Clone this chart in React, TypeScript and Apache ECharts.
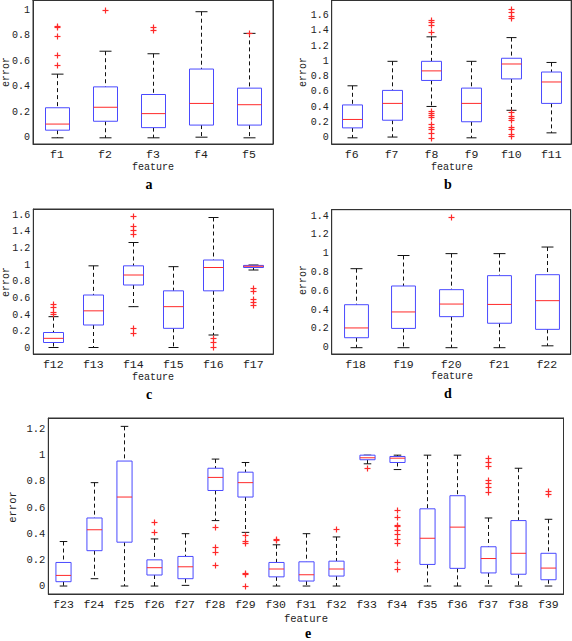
import React, { useEffect, useRef } from "react";
import * as echarts from "echarts";

// ---------- data ----------
const featuresA = ["f1", "f2", "f3", "f4", "f5"];
const statsA = [
  [0, 0.06, 0.108, 0.236, 0.5],
  [0, 0.13, 0.24, 0.4, 0.68],
  [0, 0.08, 0.19, 0.34, 0.66],
  [0.005, 0.1, 0.27, 0.54, 0.99],
  [0, 0.1, 0.26, 0.39, 0.82],
];
const outliersA = [[0.57, 0.65, 0.8, 0.87, 0.88], [1.0], [0.85, 0.87], [], [0.82]];
const ticksA = [0, 0.2, 0.4, 0.6, 0.8, 1];

const featuresB = ["f6", "f7", "f8", "f9", "f10", "f11"];
const statsB = [
  [0, 0.13, 0.24, 0.43, 0.68],
  [0.01, 0.23, 0.45, 0.62, 1.0],
  [0.41, 0.75, 0.875, 1.0, 1.32],
  [0, 0.21, 0.45, 0.65, 1.0],
  [0.36, 0.77, 0.965, 1.04, 1.31],
  [0.065, 0.45, 0.73, 0.86, 0.985],
];
const outliersB = [
  [],
  [],
  [1.38, 1.47, 1.52, 1.54, 0.35, 0.33, 0.3, 0.27, 0.175, 0.14, 0.11, 0.065, 0.0],
  [],
  [1.56, 1.59, 1.64, 1.68, 0.34, 0.29, 0.26, 0.23, 0.14, 0.12, 0.05, 0.02],
  [],
];
const ticksB = [0, 0.2, 0.4, 0.6, 0.8, 1, 1.2, 1.4, 1.6];

const featuresC = ["f12", "f13", "f14", "f15", "f16", "f17"];
const statsC = [
  [0.01, 0.07, 0.12, 0.19, 0.38],
  [0.01, 0.28, 0.45, 0.64, 0.99],
  [0.5, 0.76, 0.88, 0.99, 1.27],
  [0.01, 0.24, 0.5, 0.69, 0.98],
  [0.16, 0.69, 0.97, 1.06, 1.57],
  [0.94, 0.97, 0.985, 0.995, 1.0],
];
const outliersC = [
  [0.53, 0.5, 0.44, 0.41],
  [],
  [1.37, 1.42, 1.47, 1.59, 0.25, 0.19],
  [],
  [0.13, 0.08, 0.02],
  [0.72, 0.69, 0.59, 0.56, 0.52],
];
const ticksC = [0, 0.2, 0.4, 0.6, 0.8, 1, 1.2, 1.4, 1.6];

const featuresD = ["f18", "f19", "f20", "f21", "f22"];
const statsD = [
  [0, 0.106, 0.21, 0.457, 0.84],
  [0, 0.205, 0.38, 0.656, 0.98],
  [0, 0.33, 0.464, 0.617, 1.0],
  [0, 0.26, 0.46, 0.766, 1.0],
  [0.02, 0.195, 0.5, 0.776, 1.07],
];
const outliersD = [[], [], [1.39], [], []];
const ticksD = [0, 0.2, 0.4, 0.6, 0.8, 1, 1.2, 1.4];

const featuresE = [
  "f23", "f24", "f25", "f26", "f27", "f28", "f29", "f30", "f31",
  "f32", "f33", "f34", "f35", "f36", "f37", "f38", "f39",
];
const statsE = [
  [0, 0.033, 0.081, 0.18, 0.34],
  [0.056, 0.27, 0.43, 0.52, 0.79],
  [0, 0.335, 0.68, 0.955, 1.22],
  [0, 0.084, 0.14, 0.2, 0.36],
  [0.005, 0.056, 0.147, 0.226, 0.4],
  [0.5, 0.73, 0.83, 0.9, 0.97],
  [0.41, 0.68, 0.79, 0.87, 0.944],
  [0, 0.07, 0.13, 0.18, 0.315],
  [0, 0.038, 0.086, 0.185, 0.4],
  [0, 0.076, 0.13, 0.19, 0.375],
  [0.934, 0.965, 0.98, 1.0, 1.0],
  [0.89, 0.944, 0.977, 0.99, 1.0],
  [0, 0.165, 0.365, 0.59, 1.0],
  [0, 0.135, 0.45, 0.69, 1.0],
  [0, 0.1, 0.21, 0.3, 0.52],
  [0, 0.09, 0.25, 0.5, 0.9],
  [0, 0.048, 0.137, 0.25, 0.51],
];
const outliersE = [
  [],
  [],
  [],
  [0.49, 0.41],
  [],
  [0.45, 0.3, 0.26, 0.16],
  [0.39, 0.345, 0.325, 0.1, 0.09, 0.0],
  [0.36, 0.355],
  [],
  [0.434],
  [0.9],
  [0.584, 0.53, 0.47, 0.457, 0.43, 0.4, 0.36, 0.33, 0.185, 0.13],
  [],
  [],
  [0.98, 0.95, 0.92, 0.81, 0.79, 0.76, 0.72],
  [],
  [0.726, 0.705],
];
const ticksE = [0, 0.2, 0.4, 0.6, 0.8, 1, 1.2];

// ---------- layout ----------
const panels = [
  {
    name: "a", features: featuresA, stats: statsA, outliers: outliersA, ticks: ticksA,
    left: 33, top: -3, width: 240, height: 147, min: -0.0485, max: 1.082, fy: 10, fx: 11.5,
    err: [6, 72], feat: [153, 167], letter: [149, 184],
  },
  {
    name: "b", features: featuresB, stats: statsB, outliers: outliersB, ticks: ticksB,
    left: 331.7, top: -3, width: 239.5, height: 147, min: -0.0807, max: 1.8015, fy: 10, fx: 11.5,
    err: [303, 72], feat: [452, 167], letter: [448, 184],
  },
  {
    name: "c", features: featuresC, stats: statsC, outliers: outliersC, ticks: ticksC,
    left: 33.3, top: 209, width: 240, height: 145, min: -0.068, max: 1.672, fy: 10, fx: 11.5,
    err: [6, 282], feat: [153, 377], letter: [149, 394],
  },
  {
    name: "d", features: featuresD, stats: statsD, outliers: outliersD, ticks: ticksD,
    left: 331.7, top: 209.7, width: 239, height: 144.3, min: -0.067, max: 1.467, fy: 10, fx: 11.5,
    err: [303, 280], feat: [452, 376], letter: [448, 393],
  },
  {
    name: "e", features: featuresE, stats: statsE, outliers: outliersE, ticks: ticksE,
    left: 48.3, top: 418, width: 515.2, height: 176, min: -0.061, max: 1.284, fy: 10.5, fx: 11.5,
    err: [13, 507], feat: [306, 619], letter: [308, 633],
  },
];

const MONO = "Liberation Mono";
const AXIS = "#333";
const TEXT = "#222";
const BLUE = "#4a4aff";
const RED = "#ff2a2a";

function buildOption() {
  const grid: any[] = [];
  const xAxis: any[] = [];
  const yAxis: any[] = [];
  const series: any[] = [];
  const graphic: any[] = [];

  panels.forEach((p, i) => {
    grid.push({
      left: p.left, top: p.top, width: p.width, height: p.height,
      show: true, borderColor: AXIS, borderWidth: 1, backgroundColor: "transparent",
    });
    const tickStyle = { inside: true, length: 4, lineStyle: { color: AXIS, width: 1 } };
    xAxis.push({
      type: "category", gridIndex: i, data: p.features, position: "bottom",
      boundaryGap: true,
      axisLine: { show: true, onZero: false, lineStyle: { color: AXIS, width: 1 } },
      axisTick: { ...tickStyle, alignWithLabel: true, interval: 0 },
      axisLabel: { fontFamily: MONO, fontSize: p.fx, color: TEXT, margin: 4, interval: 0 },
      splitLine: { show: false },
    });
    xAxis.push({
      type: "category", gridIndex: i, data: p.features, position: "top",
      boundaryGap: true,
      axisLine: { show: true, onZero: false, lineStyle: { color: AXIS, width: 1 } },
      axisTick: { ...tickStyle, alignWithLabel: true, interval: 0 },
      axisLabel: { show: false },
      splitLine: { show: false },
    });
    yAxis.push({
      type: "value", gridIndex: i, min: p.min, max: p.max, position: "left",
      axisLine: { show: true, onZero: false, lineStyle: { color: AXIS, width: 1 } },
      axisTick: { ...tickStyle, customValues: p.ticks },
      axisLabel: {
        fontFamily: MONO, fontSize: p.fy, color: TEXT, margin: 3,
        customValues: p.ticks, formatter: (v: number) => String(+v.toFixed(2)),
      },
      splitLine: { show: false },
    });
    yAxis.push({
      type: "value", gridIndex: i, min: p.min, max: p.max, position: "right",
      axisLine: { show: true, onZero: false, lineStyle: { color: AXIS, width: 1 } },
      axisTick: { ...tickStyle, customValues: p.ticks },
      axisLabel: { show: false, customValues: p.ticks },
      splitLine: { show: false },
    });

    const boxData = p.stats.map((s, k) => [k, ...s]);
    series.push({
      type: "custom",
      xAxisIndex: 2 * i,
      yAxisIndex: 2 * i,
      data: boxData,
      clip: false,
      renderItem: (params: any, api: any) => {
        const idx = api.value(0);
        const c = (v: number) => api.coord([idx, v]);
        const x = Math.round(c(api.value(3))[0]) + 0.5;
        const band = api.size([1, 0])[0];
        const hw = band * 0.25;
        const cw = band * 0.125;
        const yMin = c(api.value(1))[1];
        const yQ1 = c(api.value(2))[1];
        const yMed = c(api.value(3))[1];
        const yQ3 = c(api.value(4))[1];
        const yMax = c(api.value(5))[1];
        const dash = { stroke: "#111", lineWidth: 1, lineDash: [4, 3] };
        const solid = { stroke: "#111", lineWidth: 1 };
        return {
          type: "group",
          children: [
            { type: "line", shape: { x1: x, y1: yMax, x2: x, y2: yQ3 }, style: dash },
            { type: "line", shape: { x1: x, y1: yQ1, x2: x, y2: yMin }, style: dash },
            { type: "line", shape: { x1: x - cw, y1: yMax, x2: x + cw, y2: yMax }, style: solid },
            { type: "line", shape: { x1: x - cw, y1: yMin, x2: x + cw, y2: yMin }, style: solid },
            {
              type: "rect",
              shape: { x: x - hw, y: yQ3, width: 2 * hw, height: yQ1 - yQ3 },
              style: { stroke: BLUE, fill: "#fff", lineWidth: 1 },
            },
            { type: "line", shape: { x1: x - hw, y1: yMed, x2: x + hw, y2: yMed }, style: { stroke: RED, lineWidth: 1 } },
          ],
        };
      },
    });

    const outData: number[][] = [];
    p.outliers.forEach((arr, k) => arr.forEach((v) => outData.push([k, v])));
    series.push({
      type: "custom",
      xAxisIndex: 2 * i,
      yAxisIndex: 2 * i,
      data: outData,
      clip: false,
      z: 5,
      renderItem: (params: any, api: any) => {
        const pt = api.coord([api.value(0), api.value(1)]);
        const x = Math.round(pt[0]) + 0.5;
        const y = Math.round(pt[1]) + 0.5;
        const s = 3;
        const st = { stroke: RED, lineWidth: 1.2 };
        return {
          type: "group",
          children: [
            { type: "line", shape: { x1: x - s, y1: y, x2: x + s, y2: y }, style: st },
            { type: "line", shape: { x1: x, y1: y - s, x2: x, y2: y + s }, style: st },
          ],
        };
      },
    });

    graphic.push({
      type: "text", x: p.err[0], y: p.err[1], rotation: Math.PI / 2,
      style: {
        text: "error", font: `${p.fy}px ${MONO}`, fill: TEXT,
        align: "center", verticalAlign: "middle", textAlign: "center", textVerticalAlign: "middle",
      },
    });
    graphic.push({
      type: "text", x: p.feat[0], y: p.feat[1],
      style: {
        text: "feature", font: `${p.fy}px ${MONO}`, fill: TEXT,
        align: "center", verticalAlign: "middle", textAlign: "center", textVerticalAlign: "middle",
      },
    });
    graphic.push({
      type: "text", x: p.letter[0], y: p.letter[1],
      style: {
        text: p.name, font: `bold 14px Liberation Serif`, fill: "#000",
        align: "center", verticalAlign: "middle", textAlign: "center", textVerticalAlign: "middle",
      },
    });
  });

  return {
    animation: false,
    backgroundColor: "#fff",
    grid,
    xAxis,
    yAxis,
    series,
    graphic,
  };
}

export default function App() {
  const ref = useRef<HTMLDivElement>(null);
  useEffect(() => {
    if (!ref.current) return;
    const chart = echarts.init(ref.current, undefined, { renderer: "svg" });
    chart.setOption(buildOption() as any);
    return () => chart.dispose();
  }, []);
  return (
    <div
      ref={ref}
      style={{ position: "absolute", left: 0, top: 0, width: 572, height: 641, background: "#fff" }}
    />
  );
}
